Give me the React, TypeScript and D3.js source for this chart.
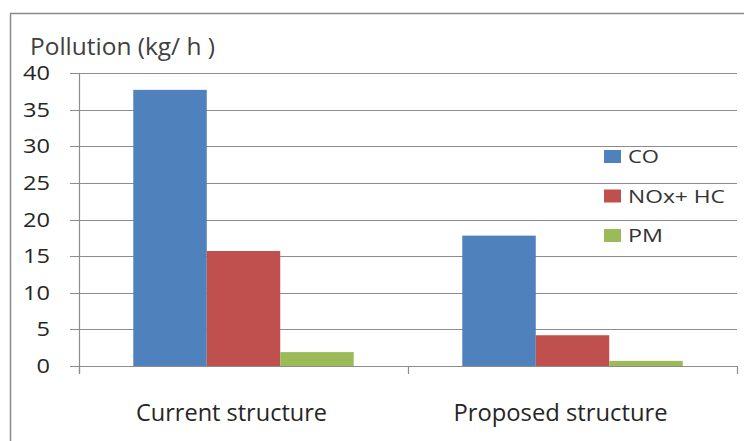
import React from "react";
import * as d3 from "d3";

const categories = ["Current structure", "Proposed structure"];
const seriesNames = ["CO", "NOx+ HC", "PM"];
const coValues = [37.7, 17.8];
const noxValues = [15.7, 4.2];
const pmValues = [1.9, 0.7];
const yTicks = [0, 5, 10, 15, 20, 25, 30, 35, 40];
const colors = ["#4F81BD", "#C0504D", "#9BBB59"];

const W = 744;
const H = 441;
const FONT = "'Open Sans', 'Liberation Sans', sans-serif";

// text widths measured on the reference
const catWidths = [191, 214];
const legendWidths = [31, 97, 35];

export default function App() {
  const series = [coValues, noxValues, pmValues];
  const left = 79, right = 737, top = 73, bottom = 366;
  const x0 = d3.scaleBand<string>().domain(categories).range([left, right]).paddingInner(0).paddingOuter(0);
  const groupW = x0.bandwidth() * 0.67;
  const x1 = d3.scaleBand<string>().domain(seriesNames).range([0, groupW]);
  const y = d3.scaleLinear().domain([0, 40]).range([bottom, top]);
  const gridColor = "#8c8c8c";
  const textColor = "#262626";

  return (
    <svg width={W} height={H} style={{ position: "absolute", left: 0, top: 0 }}>
      <rect x={0} y={0} width={W} height={H} fill="#fff" />
      <path d={`M10.5,${H} V13.5 H${W}`} fill="none" stroke="#8a8a8a" strokeWidth={1.5} />
      <text x={30} y={55} fontFamily={FONT} fontSize={23} fill="#404040" textLength={185} lengthAdjust="spacingAndGlyphs">Pollution  (kg/ h )</text>
      {yTicks.map((t) => {
        const s = String(t);
        const tw = s.length * 13.5;
        return (
          <g key={t}>
            <line x1={70} x2={right} y1={Math.round(y(t)) + 0.5} y2={Math.round(y(t)) + 0.5} stroke={gridColor} strokeWidth={1.2} />
            <text x={50 - tw} y={y(t) + 7} fontFamily={FONT} fontSize={19.5} fill={textColor} textLength={tw} lengthAdjust="spacingAndGlyphs">{s}</text>
          </g>
        );
      })}
      {categories.map((c, ci) => {
        const gx = x0(c)! + (x0.bandwidth() - groupW) / 2;
        const cx = x0(c)! + x0.bandwidth() / 2;
        return (
          <g key={c}>
            {series.map((vals, si) => (
              <rect
                key={si}
                x={gx + x1(seriesNames[si])!}
                y={y(vals[ci])}
                width={x1.bandwidth()}
                height={y(0) - y(vals[ci])}
                fill={colors[si]}
              />
            ))}
            <text x={cx - catWidths[ci] / 2 - 12} y={421} fontFamily={FONT} fontSize={23} fill={textColor} textLength={catWidths[ci]} lengthAdjust="spacingAndGlyphs">{c}</text>
          </g>
        );
      })}
      <line x1={left + 0.5} x2={left + 0.5} y1={top} y2={bottom + 8} stroke={gridColor} strokeWidth={1.2} />
      <line x1={left} x2={right} y1={bottom + 0.5} y2={bottom + 0.5} stroke={gridColor} strokeWidth={1.2} />
      {[left, x0(categories[1])!, right].map((tx, i) => (
        <line key={i} x1={tx + 0.5} x2={tx + 0.5} y1={bottom} y2={bottom + 8} stroke={gridColor} strokeWidth={1.2} />
      ))}
      {seriesNames.map((s, i) => (
        <g key={s} transform={`translate(604, ${150 + i * 39.5})`}>
          <rect x={0} y={0} width={17} height={13} fill={colors[i]} />
          <text x={24} y={13} fontFamily={FONT} fontSize={18} fill="#333" textLength={legendWidths[i]} lengthAdjust="spacingAndGlyphs">{s}</text>
        </g>
      ))}
    </svg>
  );
}
